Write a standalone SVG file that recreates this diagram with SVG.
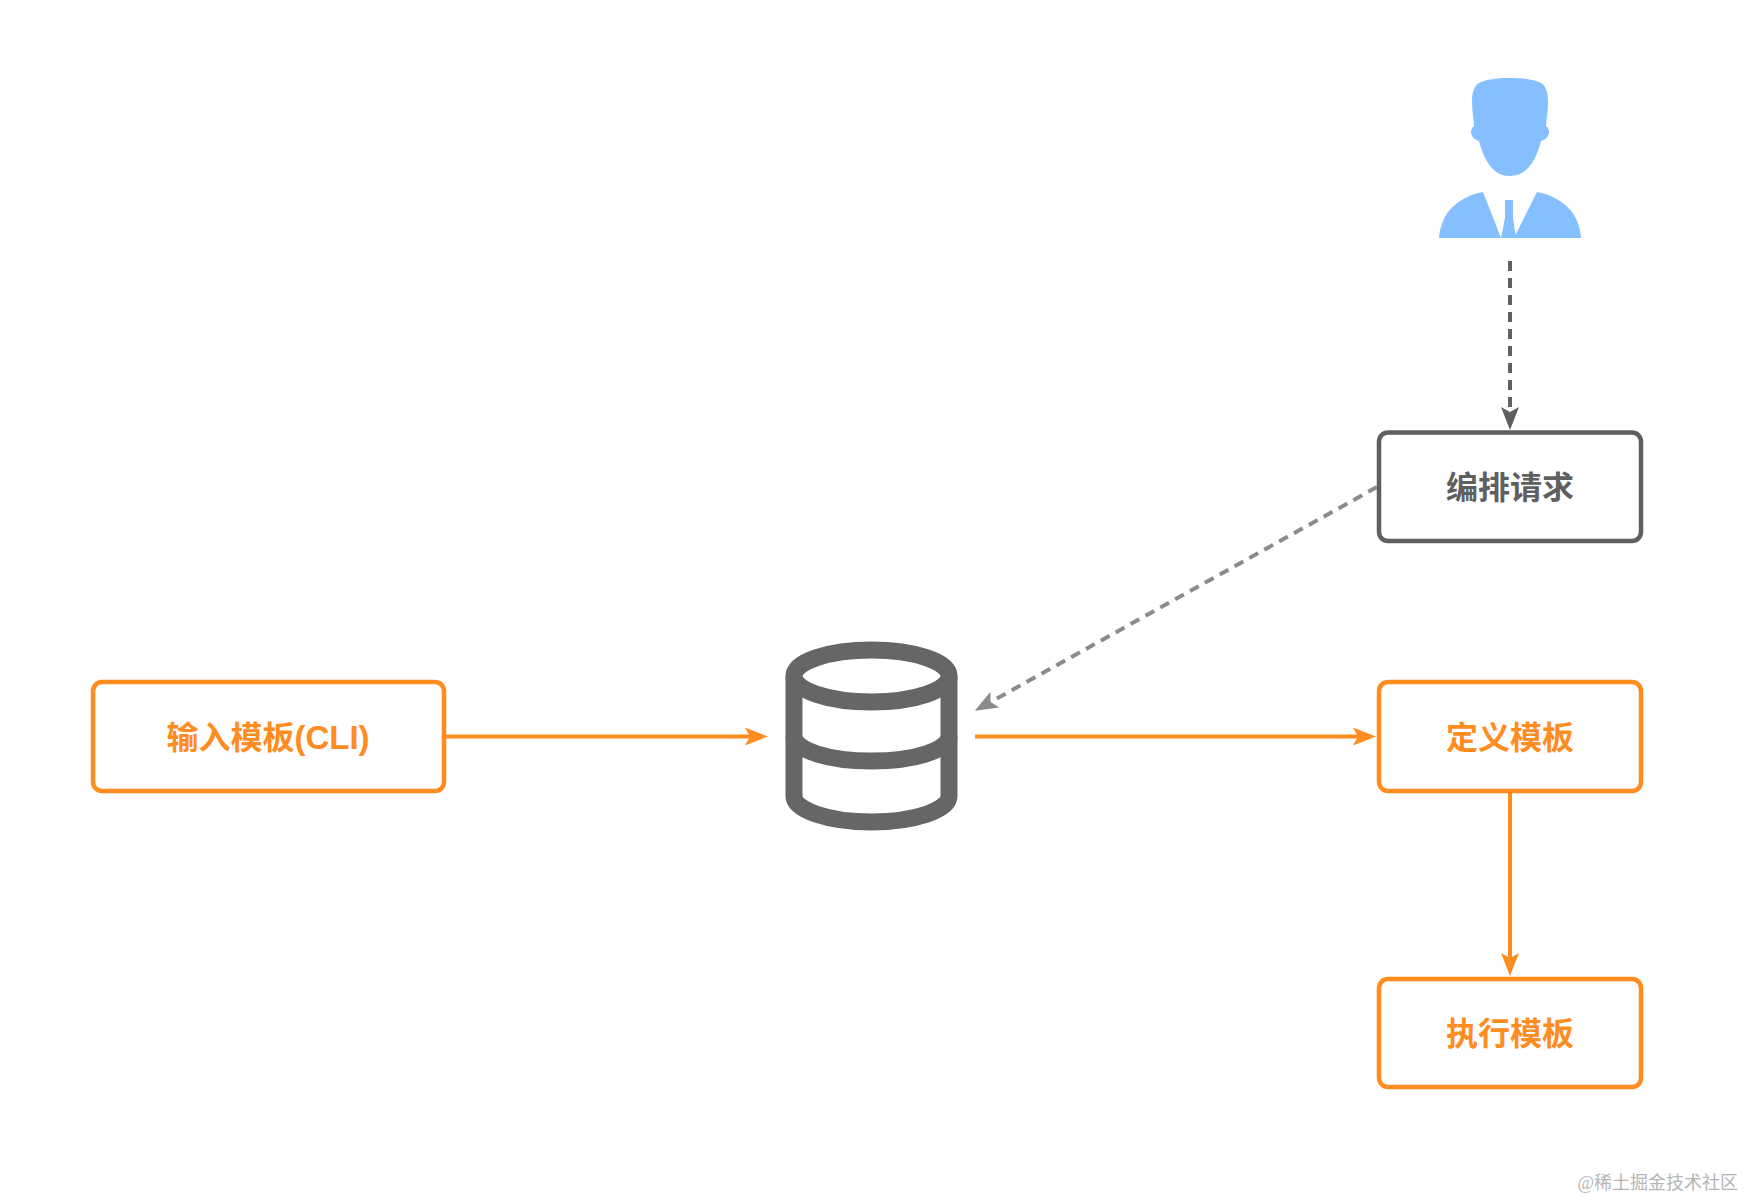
<svg xmlns="http://www.w3.org/2000/svg" width="1744" height="1198" viewBox="0 0 1744 1198">
<style>
.box{fill:#fff;stroke-width:4.500}
.o{stroke:#ff8c1f}
.g{stroke:#5f5f5f}
.t{font-family:"Liberation Sans","Noto Sans CJK SC",sans-serif;font-size:32px;font-weight:700;text-anchor:middle}
.to{fill:#ff8c1f}
.tg{fill:#5f5f5f}
.c{fill:none;stroke-width:4}
</style>
<defs>
<marker id="ao" markerUnits="userSpaceOnUse" markerWidth="26" markerHeight="22" refX="9" refY="11" orient="auto"><path d="M0 2L23 11L0 20L5 11Z" fill="#ff8c1f"/></marker>
<marker id="ag" markerUnits="userSpaceOnUse" markerWidth="26" markerHeight="22" refX="9" refY="11" orient="auto"><path d="M0 2L23 11L0 20L5 11Z" fill="#5f5f5f"/></marker>
<marker id="al" markerUnits="userSpaceOnUse" markerWidth="26" markerHeight="22" refX="9" refY="11" orient="auto"><path d="M0 2L23 11L0 20L5 11Z" fill="#8a8c8c"/></marker>
</defs>
<rect width="1744" height="1198" fill="#fff"/>
<g id="connectors">
<path class="c" stroke="#5f5f5f" stroke-dasharray="10 7" d="M1510 261V416" marker-end="url(#ag)"/>
<path class="c" stroke="#8a8c8c" stroke-dasharray="10 7" d="M1377 487L987 704" marker-end="url(#al)"/>
<path class="c" stroke="#ff8c1f" d="M445 736.500H754" marker-end="url(#ao)"/>
<path class="c" stroke="#ff8c1f" d="M975 736.500H1362" marker-end="url(#ao)"/>
<path class="c" stroke="#ff8c1f" d="M1510 792V962" marker-end="url(#ao)"/>
</g>
<g id="user" fill="#85bfff">
<path d="M1510 78C1496 78 1484 80 1479 83C1474 86 1472 92 1472 102C1472 112 1474 120 1474 126C1469 129 1470 139 1479 141C1485 163 1494 176 1510 176C1526 176 1535 163 1541 141C1550 139 1551 129 1546 126C1546 120 1548 112 1548 102C1548 92 1546 86 1541 83C1536 80 1524 78 1510 78Z"/>
<path d="M1439 238C1441 212 1458 197 1483 192L1501 238Z"/>
<path d="M1581 238C1579 212 1562 197 1537 192L1515 236V238Z"/>
<path d="M1505 200H1513V218L1516 238H1501L1505 218Z"/>
</g>
<g id="n-request">
<rect class="box g" x="1379" y="432.500" width="262" height="108.500" rx="9"/>
<text class="t tg" x="1510" y="499">编排请求</text>
</g>
<g id="n-db" fill="none" stroke="#666" stroke-width="17">
<ellipse cx="871.5" cy="676" rx="77.500" ry="26"/>
<path d="M794 676V796C794 810 828 822 871.5 822C915 822 949 810 949 796V676"/>
<path d="M794 736C794 750 828 761 871.5 761C915 761 949 750 949 736"/>
</g>
<g id="n-input">
<rect class="box o" x="93" y="682" width="351" height="109" rx="9"/>
<text class="t to" x="268" y="749">输入模板<tspan font-size="33">(CLI)</tspan></text>
</g>
<g id="n-define">
<rect class="box o" x="1379" y="682" width="262" height="109" rx="9"/>
<text class="t to" x="1510" y="749">定义模板</text>
</g>
<g id="n-exec">
<rect class="box o" x="1379" y="979" width="262" height="108" rx="9"/>
<text class="t to" x="1510" y="1045">执行模板</text>
</g>
<text x="1738" y="1189" text-anchor="end" font-family="Liberation Serif,Noto Sans CJK SC,serif" font-size="18" fill="#b5b5b5">@稀土掘金技术社区</text>
</svg>
